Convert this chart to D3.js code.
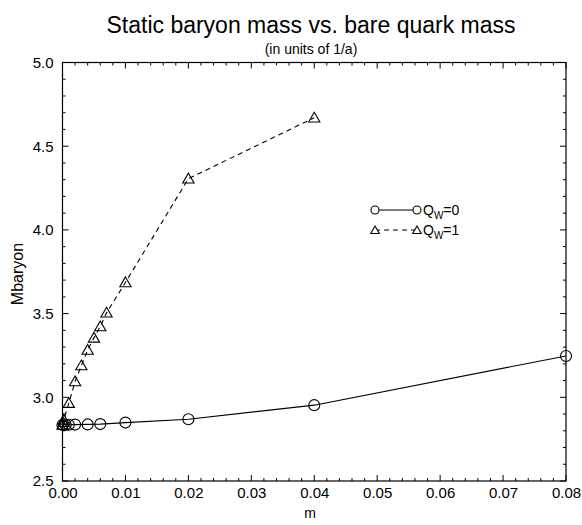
<!DOCTYPE html>
<html>
<head>
<meta charset="utf-8">
<script src="https://cdn.jsdelivr.net/npm/d3@7"></script>
<style>
  body { margin: 0; background: #fff; }
  text { font-family: "Liberation Sans", Arial, sans-serif; fill: #000; }
</style>
</head>
<body>
<div id="chart"></div>
<script>
// Qw=0 (circles, solid)
const q0_m = [0, 0.0005, 0.001, 0.002, 0.004, 0.006, 0.01, 0.02, 0.04, 0.08]
const q0_mb = [2.835, 2.836, 2.836, 2.837, 2.838, 2.840, 2.849, 2.869, 2.953, 3.247]
// Qw=1 (triangles, dashed)
const q1_m = [0, 0.0001, 0.0002, 0.001, 0.002, 0.003, 0.004, 0.005, 0.006, 0.007, 0.01, 0.02, 0.04]
const q1_mb = [2.835, 2.85, 2.865, 2.965, 3.094, 3.19, 3.283, 3.355, 3.423, 3.505, 3.686, 4.306, 4.67]

const xTicks = [0, 0.01, 0.02, 0.03, 0.04, 0.05, 0.06, 0.07, 0.08]
const yTicks = [2.5, 3.0, 3.5, 4.0, 4.5, 5.0]

const W = 582, H = 525
const margin = { top: 62.5, right: 16, bottom: 44, left: 62.5 }
const width = W - margin.left - margin.right
const height = H - margin.top - margin.bottom

const svg = d3.select('#chart')
  .append('svg')
    .attr('width', W)
    .attr('height', H)

svg.append('text')
  .attr('x', 311)
  .attr('y', 33)
  .attr('text-anchor', 'middle')
  .attr('font-size', '23px')
  .text('Static baryon mass vs. bare quark mass')

svg.append('text')
  .attr('x', 311)
  .attr('y', 54)
  .attr('text-anchor', 'middle')
  .attr('font-size', '14px')
  .text('(in units of 1/a)')

const g = svg.append('g')
  .attr('transform', `translate(${margin.left},${margin.top})`)

const x = d3.scaleLinear().domain([0, 0.08]).range([0, width])
const y = d3.scaleLinear().domain([2.5, 5.0]).range([height, 0])

// minor ticks
const xMinor = d3.range(0, 0.0801, 0.002)
const yMinor = d3.range(2.5, 5.001, 0.1)

const tickG = g.append('g').attr('stroke', '#000').attr('stroke-width', 1)
xMinor.forEach((v, i) => {
  const len = i % 5 === 0 ? 6 : 3
  tickG.append('line').attr('x1', x(v)).attr('x2', x(v)).attr('y1', height).attr('y2', height - len)
  tickG.append('line').attr('x1', x(v)).attr('x2', x(v)).attr('y1', 0).attr('y2', len)
})
yMinor.forEach((v, i) => {
  const len = i % 5 === 0 ? 6 : 3
  tickG.append('line').attr('y1', y(v)).attr('y2', y(v)).attr('x1', 0).attr('x2', len)
  tickG.append('line').attr('y1', y(v)).attr('y2', y(v)).attr('x1', width).attr('x2', width - len)
})

// frame
g.append('rect')
  .attr('width', width).attr('height', height)
  .attr('fill', 'none').attr('stroke', '#000').attr('stroke-width', 1.2)

// tick labels via axes
const xAxis = d3.axisBottom(x).tickValues(xTicks).tickFormat(d3.format('.2f')).tickSize(0).tickPadding(6)
g.append('g')
  .attr('transform', `translate(0,${height})`)
  .call(xAxis)
  .call(a => a.select('.domain').remove())
  .selectAll('text').attr('font-size', '15px').attr('font-family', '"Liberation Sans", Arial, sans-serif')

const yAxis = d3.axisLeft(y).tickValues(yTicks).tickFormat(d3.format('.1f')).tickSize(0).tickPadding(9)
g.append('g')
  .call(yAxis)
  .call(a => a.select('.domain').remove())
  .selectAll('text').attr('font-size', '15px').attr('font-family', '"Liberation Sans", Arial, sans-serif')

svg.append('text')
  .attr('x', 310)
  .attr('y', 518)
  .attr('text-anchor', 'middle')
  .attr('font-size', '14px')
  .text('m')

svg.append('text')
  .attr('transform', `translate(23,274) rotate(-90)`)
  .attr('text-anchor', 'middle')
  .attr('font-size', '16px')
  .text('Mbaryon')

const line = d3.line().x(d => x(d[0])).y(d => y(d[1]))
const s0 = q0_m.map((m, i) => [m, q0_mb[i]])
const s1 = q1_m.map((m, i) => [m, q1_mb[i]])

g.append('path').datum(s0)
  .attr('fill', 'none').attr('stroke', '#000').attr('stroke-width', 1.1)
  .attr('d', line)
g.append('path').datum(s1)
  .attr('fill', 'none').attr('stroke', '#000').attr('stroke-width', 1.1)
  .attr('stroke-dasharray', '5,4')
  .attr('d', line)

const tri = d3.symbol().type(d3.symbolTriangle).size(55)
const triSmall = d3.symbol().type(d3.symbolTriangle).size(32)

g.selectAll('.c0').data(s0).join('circle')
  .attr('class', 'c0')
  .attr('cx', d => x(d[0])).attr('cy', d => y(d[1])).attr('r', 5.5)
  .attr('fill', 'none').attr('stroke', '#000').attr('stroke-width', 1.1)

g.selectAll('.t1').data(s1).join('path')
  .attr('class', 't1')
  .attr('transform', d => `translate(${x(d[0])},${y(d[1]) + 1})`)
  .attr('d', tri)
  .attr('fill', 'none').attr('stroke', '#000').attr('stroke-width', 1.1)

// legend
const leg = svg.append('g').attr('transform', 'translate(375,210)')
leg.append('line').attr('x1', 0).attr('x2', 42).attr('y1', 0).attr('y2', 0)
  .attr('stroke', '#000').attr('stroke-width', 1.1)
leg.selectAll('.lc').data([0, 42]).join('circle')
  .attr('cx', d => d).attr('cy', 0).attr('r', 4)
  .attr('fill', '#fff').attr('stroke', '#000').attr('stroke-width', 1.1)
leg.append('line').attr('x1', 0).attr('x2', 42).attr('y1', 20).attr('y2', 20)
  .attr('stroke', '#000').attr('stroke-width', 1.1).attr('stroke-dasharray', '5,4')
leg.selectAll('.lt').data([0, 42]).join('path')
  .attr('transform', d => `translate(${d},21)`)
  .attr('d', triSmall)
  .attr('fill', '#fff').attr('stroke', '#000').attr('stroke-width', 1.1)

const labels = ['0', '1']
labels.forEach((l, i) => {
  const t = leg.append('text')
    .attr('x', 48).attr('y', i * 20 + 5)
    .attr('font-size', '14px')
  t.append('tspan').text('Q')
  t.append('tspan').attr('font-size', '10px').attr('dy', 4).text('W')
  t.append('tspan').attr('dy', -4).text('=' + l)
})
</script>
</body>
</html>
